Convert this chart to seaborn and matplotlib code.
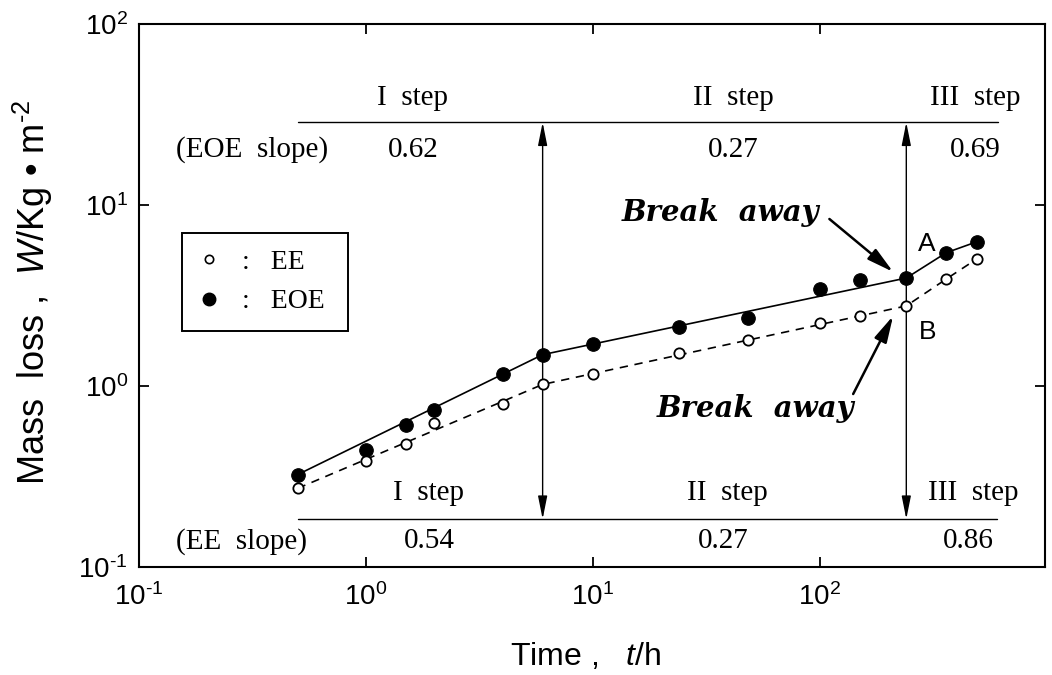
import matplotlib
matplotlib.use("Agg")
import matplotlib.pyplot as plt
import numpy as np
import pandas as pd
import seaborn as sns
from matplotlib.lines import Line2D
from matplotlib.ticker import LogLocator, NullLocator, FuncFormatter

# ---------------- data ----------------
time_h = [0.5, 1, 1.5, 2, 4, 6, 10, 24, 48, 100, 150, 240, 360, 490]
ee_loss = [0.272, 0.384, 0.477, 0.625, 0.80, 1.02, 1.16, 1.52, 1.80, 2.23, 2.45, 2.77, 3.90, 5.03]
eoe_loss = [0.324, 0.445, 0.61, 0.74, 1.16, 1.49, 1.71, 2.12, 2.37, 3.44, 3.85, 3.95, 5.45, 6.26]

# piecewise fitted lines (nodes)
eoe_fit_t = [0.5, 6, 240, 360, 490]
eoe_fit_w = [0.324, 1.49, 3.95, 5.45, 6.26]
ee_fit_t = [0.5, 6, 240, 360, 490]
ee_fit_w = [0.272, 1.02, 2.77, 3.90, 5.03]

step_labels = ["I  step", "II  step", "III  step"]
eoe_slopes = ["0.62", "0.27", "0.69"]
ee_slopes = ["0.54", "0.27", "0.86"]
break_times = [6, 240]

# ---------------- style ----------------
sns.set_theme(style="ticks")
sans = "Liberation Sans"
plt.rcParams.update({
    "font.family": [sans, "DejaVu Sans"],
    "mathtext.fontset": "custom",
    "mathtext.rm": sans,
    "mathtext.it": sans + ":italic",
    "mathtext.bf": sans + ":bold",
    "axes.unicode_minus": False,
    "axes.edgecolor": "black",
    "axes.linewidth": 1.5,
    "xtick.color": "black",
    "ytick.color": "black",
    "text.color": "black",
    "axes.labelcolor": "black",
})
serif = ["Liberation Serif", "DejaVu Serif"]
HY = "\u2010"  # short hyphen used for negative exponents


def pow10_label(v, _pos):
    e = int(round(np.log10(v)))
    es = (HY + str(-e)) if e < 0 else str(e)
    return "$\\mathdefault{10^{" + es + "}}$"


fig = plt.figure(figsize=(10.52, 6.75), dpi=100)
ax = fig.add_axes([139 / 1052, 1 - 567 / 675, 906 / 1052, 543 / 675])

pts = pd.DataFrame({"t": time_h, "EE": ee_loss, "EOE": eoe_loss})
fit_eoe = pd.DataFrame({"t": eoe_fit_t, "w": eoe_fit_w})
fit_ee = pd.DataFrame({"t": ee_fit_t, "w": ee_fit_w})

sns.lineplot(data=fit_eoe, x="t", y="w", ax=ax, color="black", lw=1.2, sort=False)
sns.lineplot(data=fit_ee, x="t", y="w", ax=ax, color="black", lw=1.2, sort=False, linestyle="--")
ax.lines[-1].set_dashes([5, 4])

sns.scatterplot(data=pts, x="t", y="EOE", ax=ax, s=95, color="black", edgecolor="black", linewidth=0.8, zorder=4)
sns.scatterplot(data=pts, x="t", y="EE", ax=ax, s=55, facecolor="white", edgecolor="black", linewidth=1.3, zorder=4)

ax.set_xscale("log")
ax.set_yscale("log")
ax.set_xlim(0.1, 980)
ax.set_ylim(0.1, 100)
ax.xaxis.set_major_locator(LogLocator(base=10, numticks=10))
ax.yaxis.set_major_locator(LogLocator(base=10, numticks=10))
ax.xaxis.set_minor_locator(NullLocator())
ax.yaxis.set_minor_locator(NullLocator())
ax.xaxis.set_major_formatter(FuncFormatter(pow10_label))
ax.yaxis.set_major_formatter(FuncFormatter(pow10_label))
ax.tick_params(which="major", direction="in", length=7, width=1.3, top=True, right=True,
               labelsize=20)
ax.tick_params(axis="x", pad=12)
ax.tick_params(axis="y", pad=8)
for s in ax.spines.values():
    s.set_linewidth(1.5)
    s.set_color("black")

ax.set_xlabel("Time ,   $\\it{t}$/h", fontsize=23, va="top")
ax.xaxis.set_label_coords(0.493, -0.136)
ax.set_ylabel("Mass  loss ,  $\\it{W}$/Kg \u2022 m$^{" + HY + "2}$", fontsize=26)
ax.yaxis.set_label_coords(-0.093, 0.506)

# ---------------- step guide lines & arrows ----------------
top_y, bot_y = 28.6, 0.184
ax.plot([0.5, 610], [top_y, top_y], color="black", lw=1.0)
ax.plot([0.5, 600], [bot_y, bot_y], color="black", lw=1.0)
for bt in break_times:
    ax.annotate("", xy=(bt, top_y), xytext=(bt, bot_y),
                arrowprops=dict(arrowstyle="<|-|>,head_length=1.4,head_width=0.28",
                                mutation_scale=10, color="black", lw=1.0,
                                shrinkA=0, shrinkB=0))

top_step_x = [1.61, 41.4, 482]
bot_step_x = [1.88, 38.9, 472]
tfs = 21
for lab, x in zip(step_labels, top_step_x):
    ax.text(x, 35.7, lab, ha="center", va="baseline", fontsize=tfs, family=serif)
for lab, x in zip(eoe_slopes, top_step_x):
    ax.text(x, 18.4, lab, ha="center", va="baseline", fontsize=tfs, family=serif)
for lab, x in zip(step_labels, bot_step_x):
    ax.text(x, 0.234, lab, ha="center", va="baseline", fontsize=tfs, family=serif)
for lab, x in zip(ee_slopes, [1.91, 37.5, 450]):
    ax.text(x, 0.127, lab, ha="center", va="baseline", fontsize=tfs, family=serif)
ax.text(0.315, 18.4, "(EOE  slope)", ha="center", va="baseline", fontsize=tfs, family=serif)
ax.text(0.284, 0.127, "(EE  slope)", ha="center", va="baseline", fontsize=tfs, family=serif)

# ---------------- break away annotations ----------------
bfont = dict(family=["DejaVu Serif"], fontsize=21, fontweight="bold", fontstyle="italic")
ax.text(36.3, 8.16, "Break  away", ha="center", va="baseline", **bfont)
ax.text(51.7, 0.674, "Break  away", ha="center", va="baseline", **bfont)
arrow_kw = dict(arrowstyle="-|>,head_length=1.6,head_width=0.4", mutation_scale=10,
                color="black", lw=1.8, shrinkA=0, shrinkB=0)
ax.annotate("", xy=(210, 4.27), xytext=(110, 8.37), arrowprops=arrow_kw)
ax.annotate("", xy=(210, 2.44), xytext=(140, 0.903), arrowprops=arrow_kw)
ax.text(296, 6.09, "A", ha="center", va="center", fontsize=19)
ax.text(299, 1.99, "B", ha="center", va="center", fontsize=19)

# ---------------- legend ----------------
handles = [
    Line2D([], [], marker="o", ls="", mfc="white", mec="black", ms=6, mew=1.2),
    Line2D([], [], marker="o", ls="", mfc="black", mec="black", ms=9),
]
leg = ax.legend(handles, [":   EE", ":   EOE "], loc="upper left",
                bbox_to_anchor=(0.0475, 0.615), borderaxespad=0, frameon=True,
                fancybox=False, framealpha=1, edgecolor="black",
                prop=dict(family=serif, size=20), handlelength=0.75,
                handletextpad=0.8, labelspacing=0.5, borderpad=0.6)
leg.get_frame().set_linewidth(1.4)

fig.savefig("out.png", dpi=100)
